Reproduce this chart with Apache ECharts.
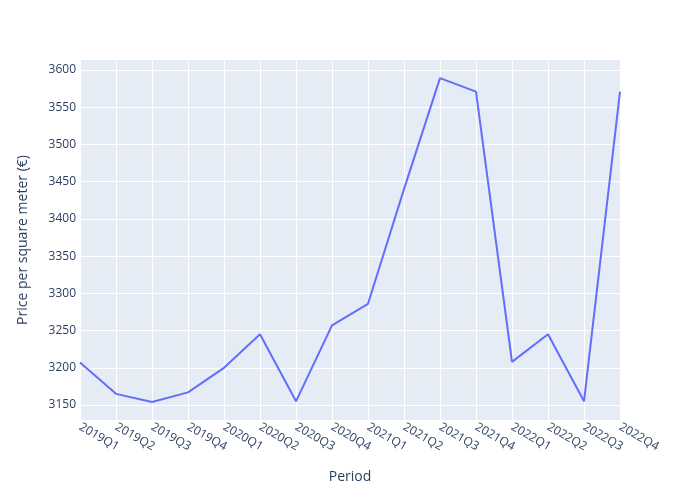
<!DOCTYPE html>
<html><head><meta charset="utf-8">
<script src="https://cdn.jsdelivr.net/npm/echarts@6/dist/echarts.min.js"></script>
<style>html,body{margin:0;padding:0;background:#fff}#c{width:700px;height:500px}</style>
</head><body><div id="c"></div>
<script>
const categories = ['2019Q1','2019Q2','2019Q3','2019Q4','2020Q1','2020Q2','2020Q3','2020Q4','2021Q1','2021Q2','2021Q3','2021Q4','2022Q1','2022Q2','2022Q3','2022Q4'];
const prices = [3207,3165,3154,3167,3200,3245,3155,3257,3286,3440,3589,3571,3208,3245,3155,3571];
const yTicks = [3150,3200,3250,3300,3350,3400,3450,3500,3550,3600];

const font = '"Open Sans", "Noto Sans", sans-serif';
const chart = echarts.init(document.getElementById('c'), null, {renderer:'canvas'});
chart.setOption({
  animation:false,
  backgroundColor:'#fff',
  grid:{left:80,right:80,top:60,bottom:80,show:true,backgroundColor:'#e5ecf6',borderWidth:0},
  xAxis:{
    type:'category', data:categories, boundaryGap:false,
    name:'Period', nameLocation:'middle', nameGap:50,
    nameTextStyle:{fontFamily:font,fontSize:14,color:'#2a3f5f'},
    axisLine:{show:false}, axisTick:{show:false},
    axisLabel:{rotate:-30,interval:0,margin:6,fontFamily:font,fontSize:12,color:'#2a3f5f'},
    splitLine:{show:true,lineStyle:{color:'#fff',width:1}}
  },
  yAxis:{
    type:'value', min:3129.9, max:3613.4,
    name:'Price per square meter (€)', nameLocation:'middle', nameGap:50,
    nameTextStyle:{fontFamily:font,fontSize:14,color:'#2a3f5f'},
    axisLine:{show:false},
    axisTick:{show:false,customValues:yTicks},
    axisLabel:{customValues:yTicks,margin:4,fontFamily:font,fontSize:12,color:'#2a3f5f',formatter:v=>String(v)},
    splitLine:{show:true,lineStyle:{color:'#fff',width:1}}
  },
  series:[{
    type:'line', data:prices, symbol:'none',
    lineStyle:{color:'#636efa',width:2}, itemStyle:{color:'#636efa'}
  }]
});
</script></body></html>
